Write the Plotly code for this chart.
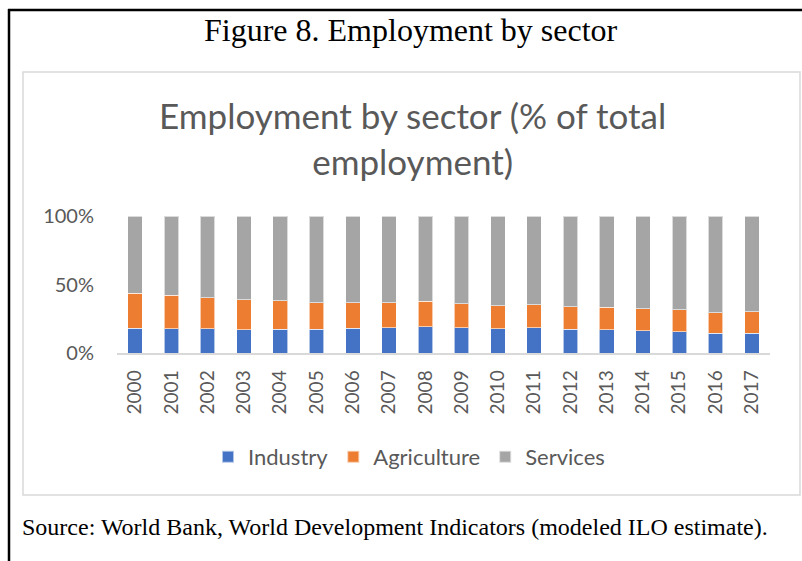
import plotly.graph_objects as go

# Employment shares by sector, % of total employment
years = [str(y) for y in range(2000, 2018)]
industry = [18.0, 17.6, 17.6, 16.8, 17.3, 17.3, 18.0, 18.3, 19.3,
            18.3, 17.6, 18.3, 17.3, 16.8, 16.1, 15.4, 14.6, 14.6]
agriculture = [25.7, 24.4, 22.9, 22.0, 20.7, 19.5, 18.6, 18.3, 18.3,
               17.6, 17.0, 16.8, 16.4, 16.6, 16.3, 16.3, 14.9, 15.4]
services = [56.3, 58.0, 59.5, 61.2, 62.0, 63.2, 63.4, 63.4, 62.4,
            64.1, 65.4, 64.9, 66.3, 66.6, 67.6, 68.3, 70.5, 70.0]
y_ticks = [0, 50, 100]
y_tick_labels = ["0%", "50%", "100%"]

W, H = 802, 561


def px(x):
    return x / W


def py(y):
    return 1 - y / H


TEXT_GRAY = "#595959"
SANS = "Lato, 'Open Sans', sans-serif"
SERIF = "'Liberation Serif', 'Times New Roman', serif"

fig = go.Figure()
for name, vals, color in [
    ("Industry", industry, "#4472C4"),
    ("Agriculture", agriculture, "#ED7D31"),
    ("Services", services, "#A5A5A5"),
]:
    fig.add_trace(go.Bar(
        x=years, y=vals, name=name,
        marker=dict(color=color, line=dict(color="rgba(255,255,255,0.6)", width=1)),
    ))

fig.update_layout(
    template="none",
    width=W, height=H,
    margin=dict(l=0, r=0, t=0, b=0, pad=0, autoexpand=False),
    paper_bgcolor="white", plot_bgcolor="white",
    barmode="stack", bargap=0.6,
    showlegend=True,
    legend=dict(
        orientation="h", x=px(409), y=py(457), xanchor="center", yanchor="middle",
        font=dict(family=SANS, size=22, color=TEXT_GRAY),
        traceorder="normal", itemsizing="constant", bgcolor="rgba(0,0,0,0)",
    ),
    xaxis=dict(
        domain=[px(117), px(770)], automargin=False,
        type="category", tickmode="array", tickvals=years, ticktext=years,
        tickangle=-90, showgrid=False, showline=True, linecolor="#D9D9D9", linewidth=1.5,
        ticks="", ticklabelstandoff=8,
        tickfont=dict(family=SANS, size=19, color=TEXT_GRAY),
        anchor="y",
    ),
    yaxis=dict(
        domain=[py(353), py(216)], automargin=False,
        range=[0, 100], tickvals=y_ticks, ticktext=y_tick_labels,
        showgrid=False, zeroline=False, showline=False, ticks="",
        ticklabelstandoff=22,
        tickfont=dict(family=SANS, size=20, color=TEXT_GRAY),
    ),
)

# Chart title inside the chart frame
fig.add_annotation(
    x=px(412), y=py(138), xref="paper", yref="paper",
    text="Employment by sector (% of total<br>employment)",
    showarrow=False, xanchor="center", yanchor="middle",
    font=dict(family=SANS, size=35, color=TEXT_GRAY),
)

# Figure caption and source line
fig.add_annotation(
    x=px(411), y=py(30), xref="paper", yref="paper",
    text="Figure 8. Employment by sector", showarrow=False,
    xanchor="center", yanchor="middle",
    font=dict(family=SERIF, size=32, color="black"),
)
fig.add_annotation(
    x=px(20), y=py(527), xref="paper", yref="paper",
    text="Source: World Bank, World Development Indicators (modeled ILO estimate).",
    showarrow=False, xanchor="left", yanchor="middle",
    font=dict(family=SERIF, size=24, color="black"),
)

# Chart frame and page rules
fig.add_shape(type="rect", xref="paper", yref="paper",
              x0=px(23), x1=px(800), y0=py(495), y1=py(72),
              line=dict(color="#D9D9D9", width=1.5), fillcolor="rgba(0,0,0,0)")
fig.add_shape(type="line", xref="paper", yref="paper",
              x0=px(9), x1=px(9), y0=py(9), y1=py(561),
              line=dict(color="black", width=2.5))
fig.add_shape(type="line", xref="paper", yref="paper",
              x0=px(8), x1=px(802), y0=py(10), y1=py(10),
              line=dict(color="black", width=2.5))

fig.write_html("out.html")
